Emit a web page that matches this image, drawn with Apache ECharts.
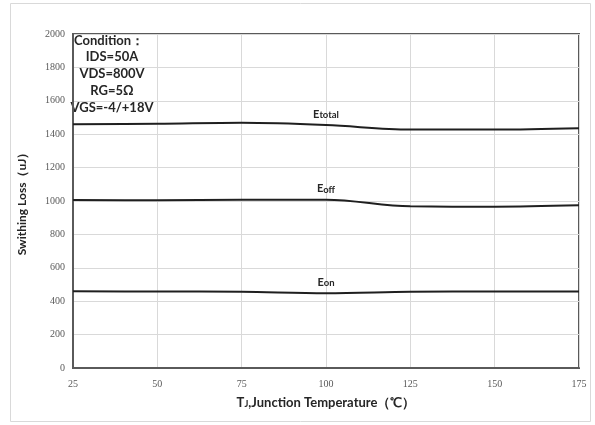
<!DOCTYPE html>
<html>
<head>
<meta charset="utf-8">
<script src="https://cdn.jsdelivr.net/npm/echarts@6/dist/echarts.min.js"></script>
<style>
  html, body { margin: 0; padding: 0; background: #fff; }
  #chart { width: 595px; height: 425px; }
</style>
</head>
<body>
<div id="chart"></div>
<script>
const temps = [25, 50, 75, 100, 125, 150, 175];
const eTotal = [1460, 1462, 1468, 1455, 1428, 1428, 1436];
const eOff = [1006, 1005, 1008, 1008, 968, 966, 974];
const eOn = [460, 458, 456, 448, 456, 458, 458];
const conditionLines = ["IDS=50A", "VDS=800V", "RG=5Ω", "VGS=-4/+18V"];

const font = "Lato, 'Open Sans', sans-serif";
const chart = echarts.init(document.getElementById("chart"));

function curve(values, sub) {
  return {
    type: "line",
    data: temps.map((t, i) => [t, values[i]]),
    smooth: 0.35,
    showSymbol: false,
    lineStyle: { color: "#1f1f1f", width: 2 },
    silent: true,
    markPoint: {
      symbol: "circle",
      symbolSize: 0,
      data: [{ coord: [temps[3], values[3]] }],
      label: {
        show: true,
        position: "top",
        distance: 5,
        formatter: "{e|E}{s|" + sub + "}",
        rich: {
          e: { fontFamily: font, fontWeight: "bold", fontSize: 11, color: "#262626" },
          s: { fontFamily: font, fontWeight: "bold", fontSize: 9.5, color: "#262626", padding: [2, 0, 0, 0] },
        },
      },
    },
  };
}

chart.setOption({
  animation: false,
  grid: {
    left: 73, right: 16, top: 34, bottom: 57,
    show: true, borderColor: "#5a5a5a", borderWidth: 2,
  },
  xAxis: {
    type: "value",
    min: 25, max: 175, interval: 25,
    name: "{t|T}{j|J}{r|,Junction Temperature（℃）}",
    nameLocation: "middle",
    nameGap: 28,
    nameTextStyle: {
      rich: {
        t: { fontFamily: font, fontWeight: "bold", fontSize: 13, color: "#262626" },
        j: { fontFamily: font, fontWeight: "bold", fontSize: 9, color: "#262626", padding: [3, 0, 0, 0] },
        r: { fontFamily: font, fontWeight: "bold", fontSize: 13, color: "#262626" },
      },
    },
    axisLine: { show: true, lineStyle: { color: "#5a5a5a", width: 2 } },
    axisTick: { show: false },
    axisLabel: { color: "#595959", fontSize: 10, fontFamily: "'Liberation Serif', serif", margin: 11 },
    splitLine: { show: true, lineStyle: { color: "#d9d9d9", width: 1 } },
  },
  yAxis: {
    type: "value",
    min: 0, max: 2000, interval: 200,
    name: "Swithing Loss（uJ）",
    nameLocation: "middle",
    nameGap: 45,
    nameTextStyle: { fontFamily: font, fontWeight: "bold", fontSize: 12, color: "#262626" },
    axisLine: { show: true, lineStyle: { color: "#5a5a5a", width: 2 } },
    axisTick: { show: false },
    axisLabel: {
      color: "#595959", fontSize: 10, fontFamily: "'Liberation Serif', serif", margin: 8,
      formatter: (v) => String(v),
    },
    splitLine: { show: true, lineStyle: { color: "#d9d9d9", width: 1 } },
  },
  graphic: [
    {
      type: "rect",
      shape: { x: 10.5, y: 3.5, width: 580, height: 418 },
      style: { fill: "none", stroke: "#d9d9d9", lineWidth: 1 },
      silent: true,
    },
    {
      type: "text",
      left: 74, top: 34,
      style: { text: "Condition：", font: "bold 13px " + font, fill: "#262626" },
    },
    ...conditionLines.map((line, i) => ({
      type: "text",
      x: 112, y: 50 + i * 17,
      style: { text: line, font: "bold 13px " + font, fill: "#262626", align: "center" },
    })),
  ],
  series: [curve(eTotal, "total"), curve(eOff, "off"), curve(eOn, "on")],
});
</script>
</body>
</html>
